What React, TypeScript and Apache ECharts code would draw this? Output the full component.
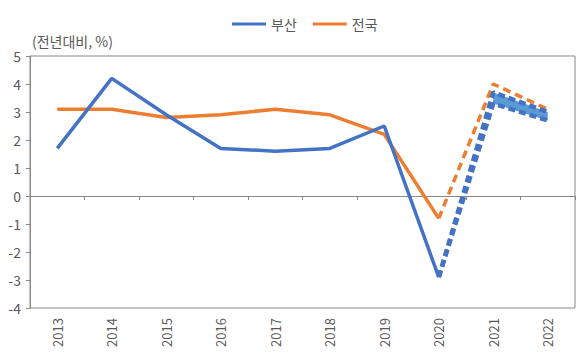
import React, { useEffect, useRef } from "react";
import * as echarts from "echarts";

const years = ["2013", "2014", "2015", "2016", "2017", "2018", "2019", "2020", "2021", "2022"];
const busanActual = [1.7, 4.2, 2.9, 1.7, 1.6, 1.7, 2.5, -2.9, null, null];
const busanForecastHigh = [null, null, null, null, null, null, null, -2.9, 3.7, 3.0];
const busanForecastLow = [null, null, null, null, null, null, null, -2.9, 3.3, 2.7];
const nationActual = [3.1, 3.1, 2.8, 2.9, 3.1, 2.9, 2.2, -0.8, null, null];
const nationForecast = [null, null, null, null, null, null, null, -0.8, 4.0, 3.1];
const yTicks = { min: -4, max: 5, interval: 1 };

const BLUE = "#4472C4";
const ORANGE = "#ED7D31";
const BAND = "#5B9BD5";
const GRAY = "#898989";
const TEXT = "#595959";
const FONT = "'Noto Sans CJK KR', 'Noto Sans', sans-serif";

export default function App() {
  const ref = useRef<HTMLDivElement>(null);
  useEffect(() => {
    if (!ref.current) return;
    const chart = echarts.init(ref.current, null, { renderer: "svg" });
    const bandBase = busanForecastLow.map((v, i) => (i >= 8 ? v : null));
    const bandDiff = busanForecastLow.map((v, i) =>
      i >= 8 && v != null && busanForecastHigh[i] != null ? +((busanForecastHigh[i] as number) - v).toFixed(2) : null
    );
    chart.setOption({
      animation: false,
      textStyle: { fontFamily: FONT },
      legend: {
        data: ["부산", "전국"],
        top: 12,
        left: 227,
        icon: "rect",
        itemWidth: 34,
        itemHeight: 3,
        itemGap: 16,
        textStyle: { color: TEXT, fontSize: 14, fontFamily: FONT },
      },
      graphic: [
        {
          type: "text",
          left: 32,
          top: 34,
          style: { text: "(전년대비, %)", fill: TEXT, fontSize: 14, fontFamily: FONT },
        },
      ],
      grid: {
        left: 30,
        right: 5,
        top: 56,
        bottom: 52,
        show: true,
        borderColor: GRAY,
        borderWidth: 1,
        containLabel: false,
      },
      xAxis: [
        {
          type: "category",
          data: years,
          boundaryGap: true,
          position: "bottom",
          axisLine: { show: true, onZero: true, lineStyle: { color: GRAY, width: 1 } },
          axisTick: { show: true, inside: false, length: 4, interval: 0, lineStyle: { color: GRAY } },
          axisLabel: { show: false },
          splitLine: { show: false },
        },
        {
          type: "category",
          data: years,
          boundaryGap: true,
          position: "bottom",
          axisLine: { show: false, onZero: false },
          axisTick: { show: false },
          axisLabel: {
            show: true,
            rotate: 90,
            interval: 0,
            margin: 10,
            color: TEXT,
            fontSize: 13,
            fontFamily: FONT,
          },
          splitLine: { show: false },
        },
      ],
      yAxis: {
        type: "value",
        min: yTicks.min,
        max: yTicks.max,
        interval: yTicks.interval,
        axisLine: { show: true, lineStyle: { color: GRAY } },
        axisTick: { show: true, inside: false, length: 4, lineStyle: { color: GRAY } },
        axisLabel: { color: TEXT, fontSize: 14, margin: 9, fontFamily: FONT },
        splitLine: { show: false },
      },
      series: [
        {
          name: "bandBase",
          type: "line",
          stack: "band",
          data: bandBase,
          symbol: "none",
          lineStyle: { opacity: 0 },
          z: 1,
          silent: true,
        },
        {
          name: "bandDiff",
          type: "line",
          stack: "band",
          data: bandDiff,
          symbol: "none",
          lineStyle: { opacity: 0 },
          areaStyle: { color: BAND, opacity: 1 },
          z: 1,
          silent: true,
        },
        {
          name: "전국",
          type: "line",
          data: nationActual,
          symbol: "none",
          lineStyle: { color: ORANGE, width: 3.5 },
          itemStyle: { color: ORANGE },
          z: 3,
        },
        {
          name: "전국전망",
          type: "line",
          data: nationForecast,
          symbol: "none",
          lineStyle: { color: ORANGE, width: 3.5, type: [8, 5] },
          z: 3,
        },
        {
          name: "부산",
          type: "line",
          data: busanActual,
          symbol: "none",
          lineStyle: { color: BLUE, width: 3.5 },
          itemStyle: { color: BLUE },
          z: 4,
        },
        {
          name: "부산전망상단",
          type: "line",
          data: busanForecastHigh,
          symbol: "none",
          lineStyle: { color: BLUE, width: 4.5, type: [7, 4] },
          z: 4,
        },
        {
          name: "부산전망하단",
          type: "line",
          data: busanForecastLow,
          symbol: "none",
          lineStyle: { color: BLUE, width: 4.5, type: [7, 4] },
          z: 4,
        },
      ],
    });
    return () => chart.dispose();
  }, []);
  return (
    <div
      ref={ref}
      style={{ width: 580, height: 360, position: "absolute", left: 0, top: 0 }}
    />
  );
}
